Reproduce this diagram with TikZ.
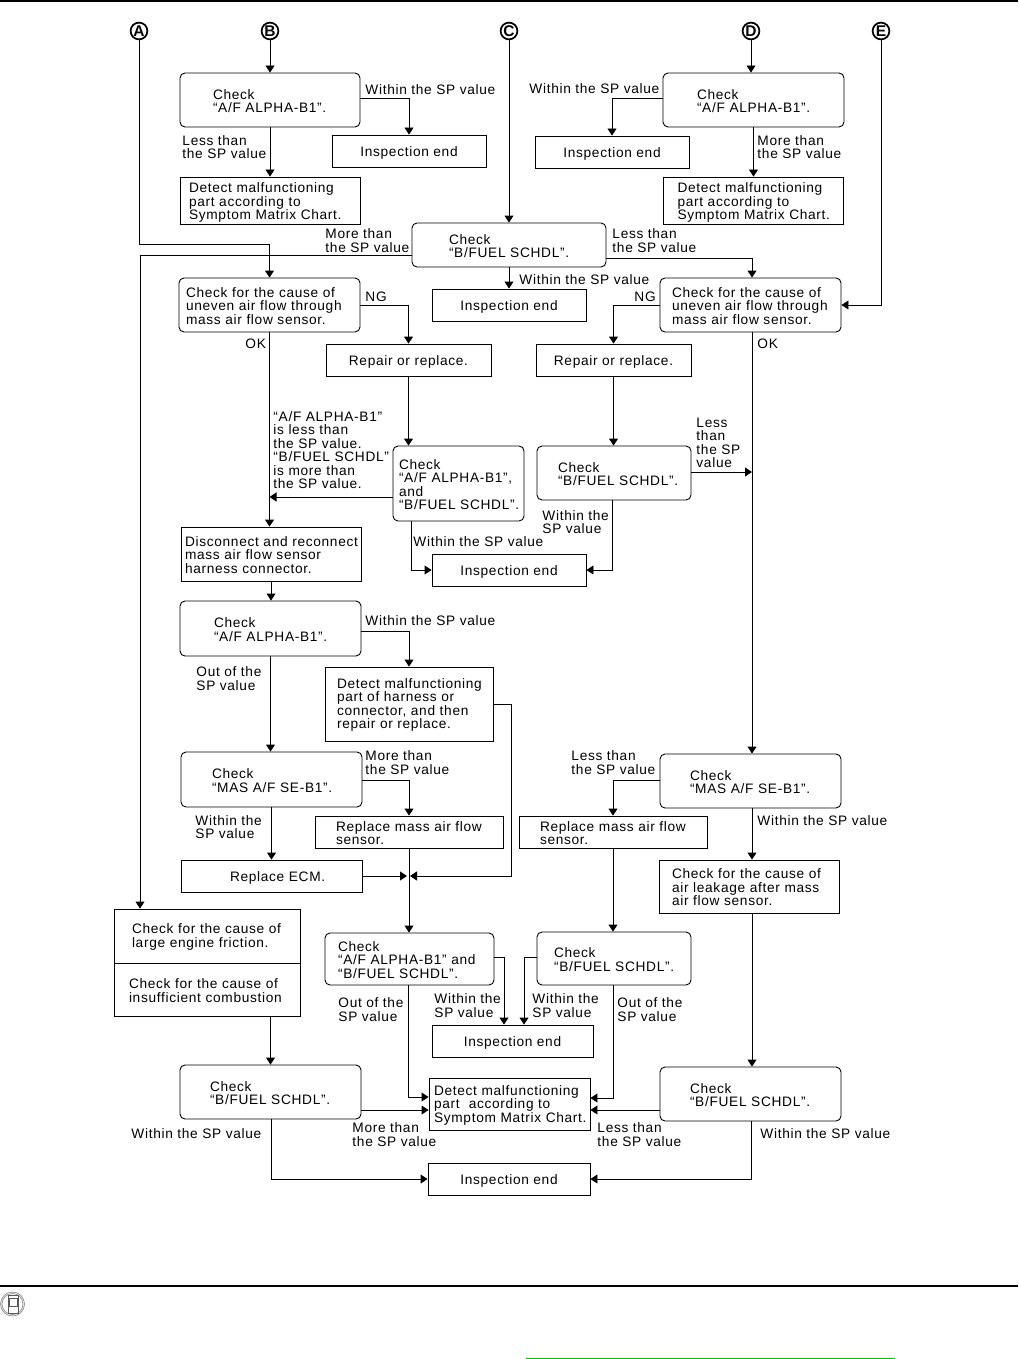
\documentclass[tikz,border=0pt]{standalone}
\usepackage{fontspec}
\setmainfont[LetterSpace=5]{Liberation Sans}
\usetikzlibrary{arrows.meta,positioning}
\definecolor{linkgreen}{RGB}{0,200,0}
\tikzset{
	sqbox/.style={draw, rectangle, inner sep=0pt, align=left},
	rdbox/.style={sqbox, rounded corners=5pt},
	boxsize/.style 2 args={text width=#1pt, minimum height=#2pt},
	pad/.style={execute at begin node={\leftskip=#1pt\rule{0pt}{12pt}}},
	lbl/.style={anchor=west, inner sep=0pt, align=left},
	endbox/.style={draw, rectangle, inner sep=0pt, align=center, text height=11pt, text depth=0pt},
	tagc/.style={draw, circle, line width=1.7pt, inner sep=0pt, minimum size=16.8pt, font=\fontsize{15.5}{15.5}\selectfont\bfseries},
	arr/.style={-{Triangle[length=7pt,width=9pt]}},
}
\begin{document}
\begin{tikzpicture}[x=1pt, y=-1pt, line width=0.9pt, font=\fontsize{13.7}{13.5}\selectfont]
	\useasboundingbox (0,0) rectangle (1018,1359);
	\fill[black] (0,0) rectangle (1018,2.5);
	\fill[black] (0,1285) rectangle (1018,1287);
	\fill[linkgreen] (526,1358) rectangle (895,1359);

	\node[tagc] (tagA) at (139,31) {A};
	\node[tagc] (tagB) at (270,31) {B};
	\node[tagc] (tagC) at (509,31) {C};
	\node[tagc] (tagD) at (751,31) {D};
	\node[tagc] (tagE) at (881,31) {E};

	\node[rdbox, boxsize={180}{54}, pad=33] (checkB) at (270,100) {Check\\“A/F ALPHA-B1”.};
	\node[rdbox, boxsize={181}{54}, pad=34] (checkD) at (753.5,100) {Check\\“A/F ALPHA-B1”.};
	\node[endbox, minimum width=154pt, minimum height=32pt] (endB) at (409,151) {Inspection end};
	\node[endbox, minimum width=154pt, minimum height=32pt] (endD) at (612,152) {Inspection end};
	\node[sqbox, boxsize={180}{47}, pad=9] (detectB) at (270,200.5) {\rule{0pt}{14pt}Detect malfunctioning\\part according to\\Symptom Matrix Chart.};
	\node[sqbox, boxsize={180}{47}, pad=14] (detectD) at (753.5,200.5) {\rule{0pt}{14pt}Detect malfunctioning\\part according to\\Symptom Matrix Chart.};
	\node[rdbox, boxsize={194}{44}, pad=37] (checkC) at (509,245) {Check\\“B/FUEL SCHDL”.};
	\node[endbox, minimum width=154pt, minimum height=32pt] (endC) at (509,305) {Inspection end};

	\node[rdbox, boxsize={181}{54}, pad=7] (causeL) at (269.5,305) {Check for the cause of\\uneven air flow through\\mass air flow sensor.};
	\node[rdbox, boxsize={181}{54}, pad=12] (causeR) at (750.5,305) {Check for the cause of\\uneven air flow through\\mass air flow sensor.};
	\node[endbox, minimum width=165pt, minimum height=32pt] (repairL) at (408.5,360) {Repair or replace.};
	\node[endbox, minimum width=155pt, minimum height=32pt] (repairR) at (613.5,360) {Repair or replace.};

	\node[rdbox, boxsize={131}{75}, pad=6] (checkBoth) at (458.5,483.5) {Check\\“A/F ALPHA-B1”,\\and\\“B/FUEL SCHDL”.};
	\node[rdbox, boxsize={154}{54}, pad=21] (checkFuel) at (614,473) {Check\\“B/FUEL SCHDL”.};
	\node[endbox, minimum width=154pt, minimum height=32pt] (endM) at (509,570) {Inspection end};
	\node[sqbox, boxsize={180}{54}, pad=4] (discon) at (271,554) {Disconnect and reconnect\\mass air flow sensor\\harness connector.};

	\node[rdbox, boxsize={181}{55}, pad=34] (checkAlpha) at (270.5,628.5) {Check\\“A/F ALPHA-B1”.};
	\node[sqbox, boxsize={168}{74}, pad=12] (detectHarness) at (409,704) {Detect malfunctioning\\part of harness or\\connector, and then\\repair or replace.};
	\node[rdbox, boxsize={181}{55}, pad=31] (checkMasL) at (271.5,779.5) {Check\\“MAS A/F SE-B1”.};
	\node[rdbox, boxsize={181}{54}, pad=30] (checkMasR) at (750.5,781) {Check\\“MAS A/F SE-B1”.};
	\node[sqbox, boxsize={188}{32}, pad=21] (replaceL) at (409,832) {Replace mass air flow\\sensor.};
	\node[sqbox, boxsize={188}{32}, pad=21] (replaceR) at (613,832) {Replace mass air flow\\sensor.};
	\node[sqbox, boxsize={181}{32}, pad=49] (replaceEcm) at (271.5,876) {\rule{0pt}{14pt}Replace ECM.};
	\node[sqbox, boxsize={180}{53}, pad=13] (leak) at (749,886.5) {Check for the cause of\\air leakage after mass\\air flow sensor.};

	\node[sqbox, boxsize={186}{54}, pad=18] (causeFric) at (207,936) {Check for the cause of\\large engine friction.};
	\node[sqbox, boxsize={186}{53}, pad=15] (causeComb) at (207,989.5) {Check for the cause of\\insufficient combustion};

	\node[rdbox, boxsize={169}{52}, pad=13] (checkBothB) at (409.5,959) {Check\\“A/F ALPHA-B1” and\\“B/FUEL SCHDL”.};
	\node[rdbox, boxsize={154}{53}, pad=17] (checkFuelB) at (614,958.5) {Check\\“B/FUEL SCHDL”.};
	\node[endbox, minimum width=161pt, minimum height=32pt] (endLow) at (512.5,1041) {Inspection end};
	\node[sqbox, boxsize={161}{52}, pad=5] (detectLow) at (509.5,1104) {Detect malfunctioning\\part~~according to\\Symptom Matrix Chart.};
	\node[rdbox, boxsize={181}{54}, pad=30] (fuelL) at (270.5,1092) {Check\\“B/FUEL SCHDL”.};
	\node[rdbox, boxsize={181}{54}, pad=30] (fuelR) at (750.5,1094) {Check\\“B/FUEL SCHDL”.};
	\node[endbox, minimum width=162pt, minimum height=32pt] (endFinal) at (509,1179) {Inspection end};

	\node[lbl] (l1) at (365,90) {Within the SP value};
	\node[lbl] (l2) at (182,147) {Less than\\the SP value};
	\node[lbl] (l3) at (529,89) {Within the SP value};
	\node[lbl] (l4) at (757,147) {More than\\the SP value};
	\node[lbl] (l5) at (325,240.5) {More than\\the SP value};
	\node[lbl] (l6) at (612,240.5) {Less than\\the SP value};
	\node[lbl] (l7) at (519,280) {Within the SP value};
	\node[lbl] (l8) at (365,297) {NG};
	\node[lbl] (l9) at (634,297) {NG};
	\node[lbl] (l10) at (245,344) {OK};
	\node[lbl] (l11) at (757,344) {OK};
	\node[lbl] (l12) at (273,450) {“A/F ALPHA-B1”\\is less than\\the SP value.\\“B/FUEL SCHDL”\\is more than\\the SP value.};
	\node[lbl] (l13) at (696,443) {Less\\than\\the SP\\value};
	\node[lbl] (l14) at (542,522) {Within the\\SP value};
	\node[lbl] (l15) at (413,542) {Within the SP value};
	\node[lbl] (l16) at (365,621) {Within the SP value};
	\node[lbl] (l17) at (196,678.5) {Out of the\\SP value};
	\node[lbl] (l18) at (365,762.5) {More than\\the SP value};
	\node[lbl] (l19) at (195,827) {Within the\\SP value};
	\node[lbl] (l20) at (571,762.5) {Less than\\the SP value};
	\node[lbl] (l21) at (757,821) {Within the SP value};
	\node[lbl] (l22) at (338,1009.5) {Out of the\\SP value};
	\node[lbl] (l23) at (434,1005.5) {Within the\\SP value};
	\node[lbl] (l24) at (532,1005.5) {Within the\\SP value};
	\node[lbl] (l25) at (617,1009.5) {Out of the\\SP value};
	\node[lbl] (l26) at (352,1134.5) {More than\\the SP value};
	\node[lbl] (l27) at (597,1134.5) {Less than\\the SP value};
	\node[lbl] (l28) at (131,1134) {Within the SP value};
	\node[lbl] (l29) at (760,1134) {Within the SP value};

	\coordinate (mergeC) at (409,876);
	\coordinate (mergeR) at (752,472);

	\draw[arr] (tagB) -- (checkB);
	\draw[arr] (tagC) -- (checkC);
	\draw[arr] (tagD) -- (tagD |- checkD.north);
	\draw[arr] ([yshift=2pt]checkB.east) -| (endB.north);
	\draw[arr] ([yshift=2pt]checkD.west) -| (endD.north);
	\draw[arr] (checkB) -- (detectB);
	\draw[arr] (checkD) -- (detectD);
	\draw[arr] (tagA) |- ([yshift=33pt]causeL.north) -- (causeL.north);
	\draw[arr] ([yshift=-10pt]checkC.north west |- checkC.west) -- (140,255) -- (causeFric.north -| 140,0);
	\draw[arr] ([yshift=-13pt]checkC.east) -| (causeR.north -| mergeR);
	\draw[arr] (checkC) -- (endC);
	\draw[arr] (tagE) |- (causeR.east);
	\draw[arr] (causeL.east) -| (repairL.north);
	\draw[arr] (causeR.west) -| (repairR.north);
	\draw[arr] (causeL) -- (causeL.south |- discon.north);
	\draw[arr] (repairL) -- (repairL.south |- checkBoth.north);
	\draw[arr] ([yshift=-13.5pt]checkBoth.west) -- ([yshift=-13.5pt]checkBoth.west -| causeL.south);
	\draw[arr] (checkBoth.south -| 411,0) |- (endM.west);
	\draw[arr] (repairR) -- (checkFuel.north -| repairR);
	\draw[arr] (mergeR -| checkFuel.east) -- (mergeR);
	\draw[arr] (causeR.south -| mergeR) -- (checkMasR.north -| mergeR);
	\draw[arr] (checkFuel.south -| 612,0) |- (endM.east);
	\draw[arr] (discon) -- (checkAlpha.north -| discon);
	\draw[arr] ([yshift=-2.5pt]checkAlpha.east) -| (detectHarness.north);
	\draw[arr] (checkAlpha) -- (checkMasL.north -| checkAlpha);
	\draw[arr] ([yshift=-0.5pt]checkMasL.east) -| (replaceL.north);
	\draw[arr] (checkMasL) -- (replaceEcm);
	\draw[arr] (replaceEcm.east) -- ([xshift=-2pt]mergeC);
	\draw[arr] (detectHarness.east) -- (511,704) |- ([xshift=1pt]mergeC);
	\draw[arr] (replaceL.south) -- (replaceL.south |- checkBothB.north);
	\draw[arr] ([yshift=1pt]checkMasR.west) -| (replaceR.north);
	\draw[arr] (checkMasR.south -| mergeR) -- (leak.north -| mergeR);
	\draw[arr] (replaceR.south) -- (replaceR.south |- checkFuelB.north);
	\draw[arr] (leak.south -| mergeR) -- (fuelR.north -| mergeR);
	\draw[arr] (fuelL.north |- causeComb.south) -- (fuelL.north);
	\draw[arr] ([yshift=2pt]checkBothB.east) -- (504,957) -- (endLow.north -| 504,0);
	\draw[arr] ([yshift=1.5pt]checkFuelB.west) -- (524,957) -- (endLow.north -| 524,0);
	\draw[arr] (checkBothB.south -| 408,0) |- ([yshift=7pt]detectLow.west);
	\draw[arr] (checkFuelB.south -| 613,0) |- ([yshift=6pt]detectLow.east);
	\draw[arr] ([yshift=-18pt]fuelL.east) -- ([yshift=-6pt]detectLow.west);
	\draw[arr] ([yshift=-16pt]fuelR.west) -- ([yshift=-6pt]detectLow.east);
	\draw[arr] (fuelL.south -| 271,0) |- (endFinal.west);
	\draw[arr] (fuelR.south -| 751,0) |- (endFinal.east);

	\draw[black!45, line width=0.7pt] (12.5,1304) circle (12);
	\draw[black!45, line width=0.7pt] (12.5,1304) circle (10.5);
	\draw[black!65, line width=0.7pt] (8,1295) rectangle (18,1313);
	\draw[black!65, line width=0.7pt] (9,1298) rectangle (17,1306);
\end{tikzpicture}
\end{document}
